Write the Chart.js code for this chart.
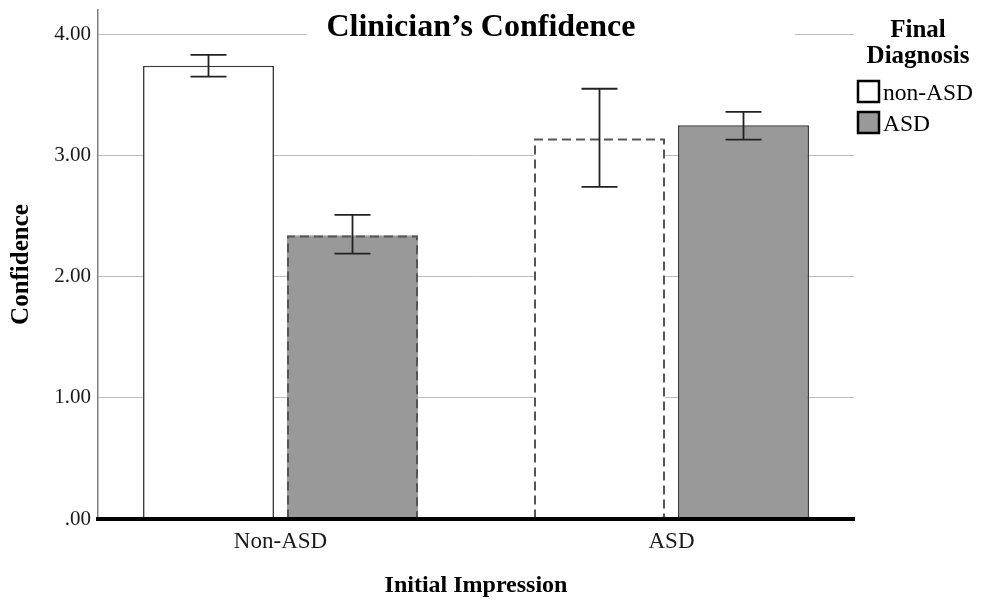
<!DOCTYPE html>
<html>
<head>
<meta charset="utf-8">
<script src="https://cdn.jsdelivr.net/npm/chart.js@4"></script>
<style>
  html, body { margin: 0; padding: 0; background: #fff; }
  #wrap { width: 981px; height: 606px; }
</style>
</head>
<body>
<div id="wrap"><canvas id="chart" width="981" height="606"></canvas></div>
<script>
const CATEGORIES = ['Non-ASD', 'ASD'];
const SERIES = ['non-ASD', 'ASD'];
const NON_ASD_MEAN = [3.74, 3.14];
const NON_ASD_LOW = [3.65, 2.74];
const NON_ASD_HIGH = [3.83, 3.55];
const ASD_MEAN = [2.34, 3.25];
const ASD_LOW = [2.19, 3.13];
const ASD_HIGH = [2.51, 3.36];
const Y_TICKS = [0, 1, 2, 3, 4];

const SERIF = "'Liberation Serif', 'Times New Roman', serif";

function toPoints(values) {
  return CATEGORIES.map((c, i) => ({ x: i, y: values[i] }));
}

// dashed outlines (Chart.js bars have no borderDash)
const dashedBars = {
  id: 'dashedBars',
  afterDatasetsDraw(chart) {
    const ctx = chart.ctx;
    chart.data.datasets.forEach((ds, di) => {
      const meta = chart.getDatasetMeta(di);
      meta.data.forEach((bar, i) => {
        if (!ds.dashed || !ds.dashed[i]) return;
        const { x, y, base, width } = bar.getProps(['x', 'y', 'base', 'width'], true);
        const l = x - width / 2 + 1, r = x + width / 2 - 1;
        ctx.save();
        ctx.strokeStyle = '#555';
        ctx.lineWidth = 2;
        ctx.setLineDash([9, 5]);
        ctx.beginPath();
        ctx.moveTo(l, base);
        ctx.lineTo(l, y + 1);
        ctx.lineTo(r, y + 1);
        ctx.lineTo(r, base);
        ctx.stroke();
        ctx.restore();
      });
    });
  }
};

const errorBars = {
  id: 'errorBars',
  afterDatasetsDraw(chart) {
    const ctx = chart.ctx;
    const yScale = chart.scales.y;
    chart.data.datasets.forEach((ds, di) => {
      const meta = chart.getDatasetMeta(di);
      meta.data.forEach((bar, i) => {
        const yHi = yScale.getPixelForValue(ds.high[i]);
        const yLo = yScale.getPixelForValue(ds.low[i]);
        const half = 18;
        ctx.save();
        ctx.strokeStyle = '#222';
        ctx.lineWidth = 1.8;
        ctx.beginPath();
        ctx.moveTo(bar.x, yHi); ctx.lineTo(bar.x, yLo);
        ctx.moveTo(bar.x - half, yHi); ctx.lineTo(bar.x + half, yHi);
        ctx.moveTo(bar.x - half, yLo); ctx.lineTo(bar.x + half, yLo);
        ctx.stroke();
        ctx.restore();
      });
    });
  }
};

// title sits inside the plot with a white box behind it, plus a custom legend on the right
const decor = {
  id: 'decor',
  beforeDatasetsDraw(chart) {
    const ctx = chart.ctx;
    ctx.save();
    ctx.fillStyle = '#fff';
    ctx.fillRect(307, 0, 488, 46);
    ctx.restore();
  },
  afterDraw(chart) {
    const ctx = chart.ctx;
    ctx.save();
    ctx.fillStyle = '#000';
    ctx.textAlign = 'center';
    ctx.textBaseline = 'alphabetic';
    ctx.font = 'bold 32px ' + SERIF;
    ctx.fillText('Clinician\u2019s Confidence', 481, 36);

    ctx.font = 'bold 25px ' + SERIF;
    ctx.fillText('Final', 918, 37);
    ctx.fillText('Diagnosis', 918, 63);

    ctx.textAlign = 'left';
    ctx.font = '23.5px ' + SERIF;
    chart.data.datasets.forEach((ds, i) => {
      const top = 80 + i * 31;
      ctx.fillStyle = ds.backgroundColor;
      ctx.fillRect(857, top, 23, 23);
      ctx.strokeStyle = '#000';
      ctx.lineWidth = 2.5;
      ctx.strokeRect(858, top + 1, 21, 21);
      ctx.fillStyle = '#000';
      ctx.fillText(ds.label, 883, top + 20);
    });
    ctx.restore();
  }
};

new Chart(document.getElementById('chart'), {
  type: 'bar',
  data: {
    datasets: [
      {
        label: SERIES[0],
        data: toPoints(NON_ASD_MEAN),
        low: NON_ASD_LOW,
        high: NON_ASD_HIGH,
        dashed: [false, true],
        backgroundColor: '#ffffff',
        borderColor: '#3c3c3c',
        borderWidth: [1.6, 0],
        borderSkipped: 'bottom'
      },
      {
        label: SERIES[1],
        data: toPoints(ASD_MEAN),
        low: ASD_LOW,
        high: ASD_HIGH,
        dashed: [true, false],
        backgroundColor: '#999999',
        borderColor: '#3c3c3c',
        borderWidth: [0, 1.6],
        borderSkipped: 'bottom'
      }
    ]
  },
  options: {
    responsive: false,
    animation: false,
    layout: { padding: { top: 10, right: 127, left: 0, bottom: 0 } },
    datasets: { bar: { categoryPercentage: 0.7366, barPercentage: 0.9097 } },
    plugins: {
      legend: { display: false },
      tooltip: { enabled: false }
    },
    scales: {
      x: {
        type: 'linear',
        offset: false,
        min: -0.4668,
        max: 1.4668,
        afterBuildTicks: s => { s.ticks = CATEGORIES.map((c, i) => ({ value: i })); },
        afterFit: s => { s.height = 87; s.paddingLeft = 0; s.paddingRight = 0; },
        grid: { display: false, drawTicks: false },
        border: { display: true, color: '#000', width: 4, z: 1 },
        ticks: {
          padding: 9, color: '#1a1a1a', autoSkip: false, maxRotation: 0,
          font: { family: SERIF, size: 23 },
          callback: v => CATEGORIES[v] ?? ''
        },
        title: {
          display: true, text: 'Initial Impression', color: '#000',
          font: { family: SERIF, size: 24, weight: 'bold' },
          padding: { top: 0, bottom: 6 }
        }
      },
      y: {
        min: 0,
        max: 4.2,
        afterBuildTicks: s => { s.ticks = Y_TICKS.map(v => ({ value: v })); },
        afterFit: s => { s.width = 98; s.paddingTop = 0; s.paddingBottom = 0; },
        grid: { color: '#bdbdbd', lineWidth: 1, drawTicks: false },
        border: { color: '#808080', width: 1.5 },
        ticks: {
          padding: 7, color: '#1a1a1a',
          font: { family: SERIF, size: 21 },
          callback: v => v.toFixed(2).replace(/^0/, '')
        },
        title: {
          display: true, text: 'Confidence', color: '#000',
          font: { family: SERIF, size: 25, weight: 'bold' },
          padding: { top: 7, bottom: 0 }
        }
      }
    }
  },
  plugins: [dashedBars, errorBars, decor]
});
</script>
</body>
</html>
